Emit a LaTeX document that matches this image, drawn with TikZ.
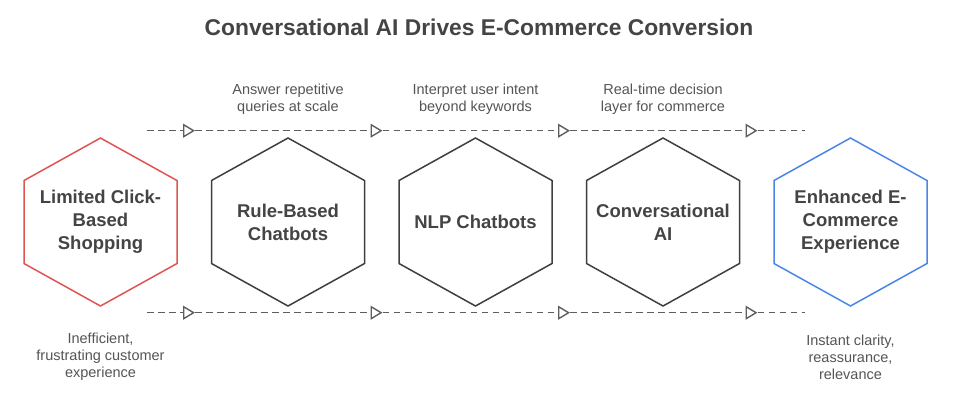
\documentclass[tikz,border=0pt]{standalone}
\usepackage{fontspec}
\setmainfont{Liberation Sans}
\usetikzlibrary{arrows.meta}
\definecolor{inkgray}{HTML}{444444}
\definecolor{notegray}{HTML}{555555}
\definecolor{hexred}{HTML}{E05551}
\definecolor{hexblue}{HTML}{4A86E8}
\definecolor{hexgray}{HTML}{3F3F3F}
\definecolor{dashgray}{HTML}{5E5E5E}
\tikzset{
	hexlabel/.style={align=center, font=\bfseries\fontsize{18.5}{23}\selectfont, text=inkgray},
	note/.style={align=center, font=\fontsize{14.5}{17}\selectfont, text=notegray},
	flow/.style={dashgray, line width=1.4pt, dash pattern=on 6.5pt off 4.5pt},
	flowtip/.style={-{Triangle[open, length=12pt, width=14pt]}}
}
\begin{document}
\begin{tikzpicture}[x=1pt, y=-1pt]
		\useasboundingbox[fill=white] (0,0) rectangle (958,405);
		\node[font=\bfseries\fontsize{22.8}{27}\selectfont, text=inkgray] (title) at (479,27) {Conversational AI Drives E-Commerce Conversion};

		\node[hexlabel] (limited) at (100.5,222) {Limited Click-\\Based\\Shopping};
		\node[hexlabel] (rule) at (288,222) {Rule-Based\\Chatbots};
		\node[hexlabel] (nlp) at (475.5,222) {NLP Chatbots};
		\node[hexlabel] (conv) at (663,222) {Conversational\\AI};
		\node[hexlabel] (enhanced) at (850.5,222) {Enhanced E-\\Commerce\\Experience};

		\foreach \n/\c in {limited/hexred, rule/hexgray, nlp/hexgray, conv/hexgray, enhanced/hexblue}
			\draw[\c, line width=1.5pt] (\n.center) ++(0,-84) -- ++(76.5,42.5) -- ++(0,83)
				-- ++(-76.5,42.5) -- ++(-76.5,-42.5) -- ++(0,-83) -- cycle;

		\node[note] (scale) at (288,99) {Answer repetitive\\queries at scale};
		\node[note] (intent) at (475.5,99) {Interpret user intent\\beyond keywords};
		\node[note] (layer) at (663,99) {Real-time decision\\layer for commerce};
		\node[note] (pain) at (100.5,357) {Inefficient,\\frustrating customer\\experience};
		\node[note] (gain) at (850.5,357) {Instant clarity,\\reassurance,\\relevance};

		\foreach \r/\y in {top/130.7, bot/312.7} {
			\foreach \i/\x in {0/147, 1/195, 2/382.5, 3/570, 4/757.5, 5/805}
				\coordinate (\r\i) at (\x,\y);
			\foreach \a/\b in {0/1, 1/2, 2/3, 3/4}
				\draw[flow, flowtip] (\r\a) -- (\r\b);
			\draw[flow] (\r4) -- (\r5);
		}
	\end{tikzpicture}
\end{document}
